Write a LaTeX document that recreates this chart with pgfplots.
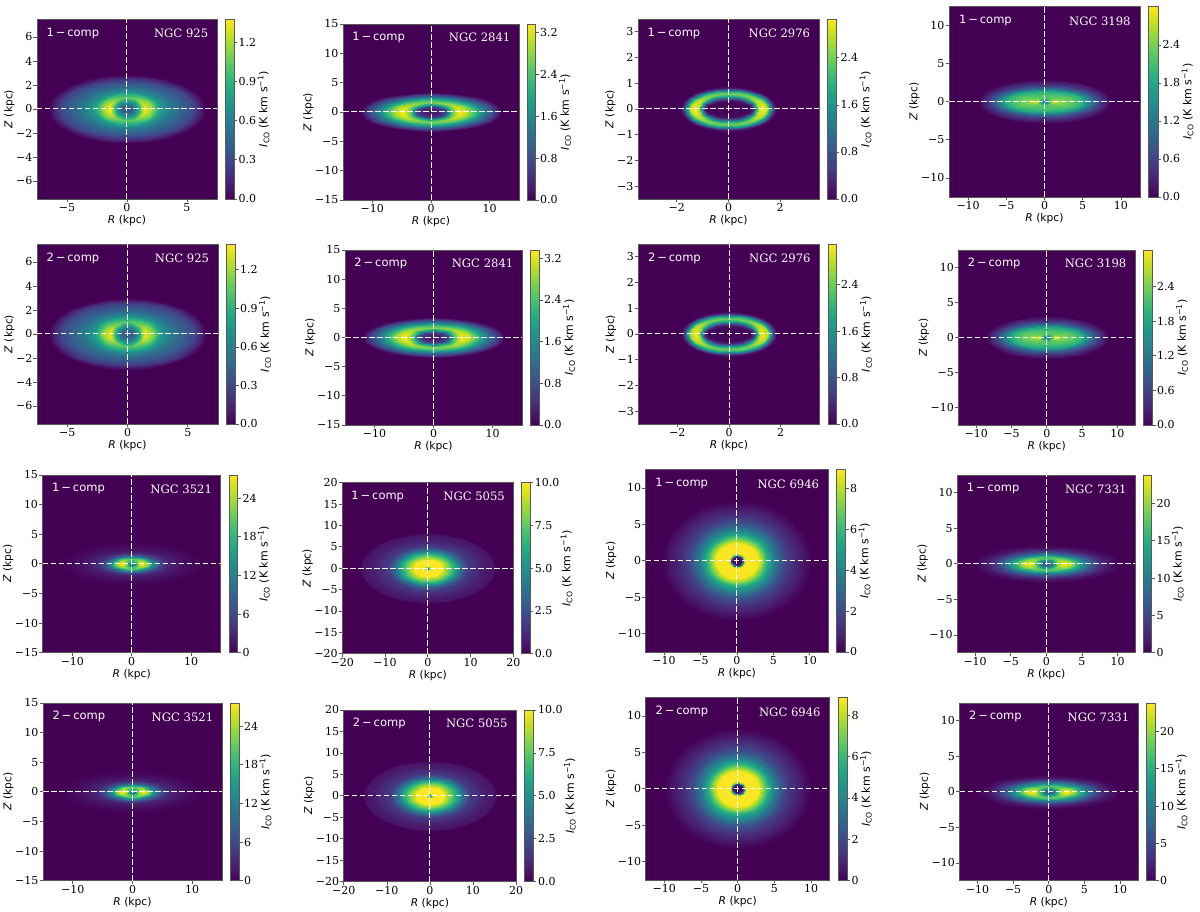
\documentclass[border=0pt]{standalone}
\usepackage{fontspec}
\setmainfont{DejaVu Sans}
\newfontfamily\serifnum{DejaVu Serif}
\usepackage{pgfplots}
\pgfplotsset{compat=1.18}
\usepackage{pgfplotstable}
\definecolor{bg}{RGB}{68,1,84}
\definecolor{spine}{gray}{0.35}
\pgfplotstableread{
x y c
0 0 .38
0 0 .38
0 0 .38
0 0 .38
0 0 .38
0 0 .38
0 0 .38
.5 0 .42
.48 .07 .42
.43 .14 .42
.35 .19 .42
.25 .23 .42
.13 .26 .42
0 .27 .42
.95 0 .85
.92 .14 .83
.82 .28 .78
.67 .39 .72
.48 .48 .68
.25 .53 .65
0 .55 .65
1.45 0 1.37
1.4 .25 1.34
1.26 .48 1.26
1.03 .67 1.17
.73 .82 1.1
.38 .92 1.05
0 .95 1.03
2 0 1.2
1.93 .32 1.17
1.73 .63 1.1
1.41 .88 1
1 1.08 .92
.52 1.21 .87
0 1.25 .85
2.7 0 .8
2.61 .4 .78
2.34 .78 .74
1.91 1.1 .7
1.35 1.34 .65
.7 1.5 .62
0 1.55 .6
3.6 0 .58
3.48 .49 .56
3.12 .95 .53
2.55 1.34 .5
1.8 1.65 .47
.93 1.84 .45
0 1.9 .45
4.7 0 .42
4.54 .57 .41
4.07 1.1 .39
3.32 1.56 .38
2.35 1.91 .36
1.22 2.13 .35
0 2.2 .35
5.5 0 .3
5.31 .63 .3
4.76 1.23 .28
3.89 1.73 .27
2.75 2.12 .26
1.42 2.37 .25
0 2.45 .25
6.1 0 .13
5.89 .69 .13
5.28 1.33 .13
4.31 1.87 .13
3.05 2.29 .13
1.58 2.56 .13
0 2.65 .13
6.6 0 0
6.38 .74 0
5.72 1.43 0
4.67 2.01 0
3.3 2.47 0
1.71 2.75 0
0 2.85 0
}\Ga
\pgfplotstableread{
x y c
0 0 .25
0 0 .25
0 0 .25
0 0 .25
0 0 .25
0 0 .25
0 0 .25
1.5 0 .3
1.45 .12 .3
1.3 .23 .3
1.06 .32 .3
.75 .39 .3
.39 .43 .3
0 .45 .3
2.6 0 .8
2.51 .22 .78
2.25 .43 .72
1.84 .6 .65
1.3 .74 .6
.67 .82 .55
0 .85 .55
3.6 0 2.6
3.48 .31 2.5
3.12 .6 2.3
2.55 .85 2.1
1.8 1.04 1.9
.93 1.16 1.8
0 1.2 1.75
4.8 0 3.36
4.64 .43 3.3
4.16 .83 3.15
3.39 1.17 3
2.4 1.43 2.85
1.24 1.59 2.75
0 1.65 2.7
6 0 3.05
5.8 .52 3
5.2 1 2.85
4.24 1.41 2.65
3 1.73 2.5
1.55 1.93 2.4
0 2 2.35
7.5 0 2.3
7.25 .62 2.2
6.5 1.2 2.05
5.3 1.7 1.9
3.75 2.08 1.75
1.94 2.32 1.65
0 2.4 1.6
9 0 1.4
8.69 .7 1.35
7.79 1.35 1.3
6.36 1.91 1.2
4.5 2.34 1.1
2.33 2.61 1.05
0 2.7 1
10.5 0 .8
10.14 .78 .75
9.09 1.5 .7
7.42 2.12 .65
5.25 2.6 .6
2.72 2.9 .57
0 3 .55
11.5 0 .3
11.11 .84 .28
9.96 1.63 .27
8.13 2.3 .25
5.75 2.81 .22
2.98 3.14 .2
0 3.25 .2
12.1 0 0
11.69 .88 0
10.48 1.7 0
8.55 2.4 0
6.05 2.94 0
3.13 3.28 0
0 3.4 0
}\Gb
\pgfplotstableread{
x y c
0 0 .02
0 0 .02
0 0 .02
0 0 .02
0 0 .02
0 0 .02
0 0 .02
.85 0 .05
.82 .07 .05
.74 .14 .05
.6 .2 .05
.43 .24 .05
.22 .27 .05
0 .28 .05
.98 0 .6
.95 .09 .5
.85 .18 .42
.69 .25 .35
.49 .31 .3
.25 .35 .3
0 .36 .3
1.08 0 2
1.04 .11 1.8
.94 .22 1.55
.76 .31 1.35
.54 .38 1.2
.28 .43 1.1
0 .44 1.05
1.2 0 2.9
1.16 .13 2.8
1.04 .26 2.55
.85 .37 2.3
.6 .45 2.1
.31 .5 2
0 .52 1.95
1.33 0 3.06
1.28 .16 3
1.15 .3 2.85
.94 .42 2.65
.67 .52 2.5
.34 .58 2.42
0 .6 2.4
1.47 0 2.8
1.42 .18 2.7
1.27 .34 2.5
1.04 .48 2.3
.74 .59 2.15
.38 .66 2.05
0 .68 2
1.62 0 1.7
1.56 .19 1.6
1.4 .38 1.4
1.15 .53 1.25
.81 .65 1.15
.42 .72 1.05
0 .75 1.05
1.75 0 .5
1.69 .21 .45
1.52 .41 .4
1.24 .58 .35
.88 .71 .3
.45 .79 .3
0 .82 .3
1.87 0 0
1.81 .23 0
1.62 .44 0
1.32 .62 0
.94 .76 0
.48 .85 0
0 .88 0
}\Gc
\pgfplotstableread{
x y c
0 0 1
0 0 1
0 0 1
0 0 1
0 0 1
0 0 1
0 0 1
.5 0 1.7
.48 .05 1.7
.43 .1 1.7
.35 .14 1.65
.25 .17 1.6
.13 .19 1.6
0 .2 1.6
1.2 0 3
1.16 .12 2.9
1.04 .23 2.65
.85 .32 2.4
.6 .39 2.25
.31 .43 2.2
0 .45 2.15
2 0 2.55
1.93 .18 2.5
1.73 .35 2.4
1.41 .49 2.3
1 .61 2.25
.52 .68 2.2
0 .7 2.2
3.5 0 2.3
3.38 .27 2.28
3.03 .53 2.25
2.47 .74 2.2
1.75 .91 2.15
.91 1.01 2.1
0 1.05 2.1
5 0 1.95
4.83 .36 1.92
4.33 .7 1.9
3.54 .99 1.85
2.5 1.21 1.8
1.3 1.35 1.75
0 1.4 1.75
6.2 0 1.2
5.99 .47 1.15
5.37 .9 1.1
4.38 1.27 1.05
3.1 1.56 1
1.61 1.74 .95
0 1.8 .95
7.3 0 .55
7.05 .57 .52
6.32 1.1 .5
5.16 1.56 .5
3.65 1.91 .47
1.89 2.13 .45
0 2.2 .45
8.2 0 .2
7.92 .67 .2
7.1 1.3 .2
5.8 1.84 .2
4.1 2.25 .2
2.12 2.51 .2
0 2.6 .2
8.8 0 0
8.5 .75 0
7.62 1.45 0
6.22 2.05 0
4.4 2.51 0
2.28 2.8 0
0 2.9 0
}\Gd
\pgfplotstableread{
x y c
0 0 10
0 0 10
0 0 10
0 0 10
0 0 10
0 0 10
0 0 10
.5 0 12
.48 .05 12
.43 .1 12
.35 .14 12
.25 .17 12
.13 .19 12
0 .2 12
1 0 24
.97 .12 23.5
.87 .23 22
.71 .32 20
.5 .39 19
.26 .43 18
0 .45 18
1.8 0 27.6
1.74 .22 27
1.56 .43 25.5
1.27 .6 24
.9 .74 22
.47 .82 21
0 .85 20.5
2.7 0 22
2.61 .28 21.5
2.34 .55 20
1.91 .78 18.5
1.35 .95 17
.7 1.06 16
0 1.1 16
3.6 0 13
3.48 .35 12.5
3.12 .68 11.5
2.55 .95 10.5
1.8 1.17 9.5
.93 1.3 9
0 1.35 9
4.7 0 6.5
4.54 .43 6.3
4.07 .83 5.8
3.32 1.17 5.3
2.35 1.43 4.9
1.22 1.59 4.7
0 1.65 4.6
6 0 3
5.8 .52 2.9
5.2 1 2.8
4.24 1.41 2.6
3 1.73 2.5
1.55 1.93 2.4
0 2 2.3
8 0 1.5
7.73 .65 1.45
6.93 1.25 1.4
5.66 1.77 1.3
4 2.17 1.25
2.07 2.42 1.2
0 2.5 1.2
10 0 .6
9.66 .78 .6
8.66 1.5 .6
7.07 2.12 .6
5 2.6 .6
2.59 2.9 .6
0 3 .6
12 0 0
11.59 .93 0
10.39 1.8 0
8.48 2.55 0
6 3.12 0
3.11 3.48 0
0 3.6 0
}\Ge
\pgfplotstableread{
x y c
0 0 4.5
0 0 4.5
0 0 4.5
0 0 4.5
0 0 4.5
0 0 4.5
0 0 4.5
.5 0 8
.48 .09 8
.43 .18 8
.35 .25 8
.25 .3 8
.13 .34 8
0 .35 8
1 0 10
.97 .16 10
.87 .3 10
.71 .42 10
.5 .52 10
.26 .58 10
0 .6 10
3.4 0 10
3.28 .52 10
2.94 1 10
2.4 1.41 10
1.7 1.73 10
.88 1.93 10
0 2 10
3.8 0 9.2
3.67 .58 9.2
3.29 1.13 9.2
2.69 1.59 9.2
1.9 1.95 9.2
.98 2.17 9.2
0 2.25 9.2
4.8 0 8
4.64 .73 8
4.16 1.4 8
3.39 1.98 8
2.4 2.42 8
1.24 2.7 8
0 2.8 8
6.3 0 6
6.09 .91 6
5.46 1.75 6
4.45 2.47 6
3.15 3.03 6
1.63 3.38 6
0 3.5 6
8 0 3.2
7.73 1.14 3.2
6.93 2.2 3.2
5.66 3.11 3.2
4 3.81 3.2
2.07 4.25 3.2
0 4.4 3.2
9.5 0 1.7
9.18 1.35 1.7
8.23 2.6 1.7
6.72 3.68 1.7
4.75 4.5 1.7
2.46 5.02 1.7
0 5.2 1.7
12 0 1.1
11.59 1.61 1.1
10.39 3.1 1.1
8.48 4.38 1.1
6 5.37 1.1
3.11 5.99 1.1
0 6.2 1.1
13 0 .8
12.56 1.76 .8
11.26 3.4 .8
9.19 4.81 .8
6.5 5.89 .8
3.37 6.57 .8
0 6.8 .8
15.4 0 .5
14.88 2.05 .5
13.34 3.95 .5
10.89 5.59 .5
7.7 6.84 .5
3.99 7.63 .5
0 7.9 .5
16 0 0
15.46 2.12 0
13.86 4.1 0
11.31 5.8 0
8 7.1 0
4.14 7.92 0
0 8.2 0
}\Gf
\pgfplotstableread{
x y c
0 0 0
0 0 0
0 0 0
0 0 0
0 0 0
0 0 0
0 0 0
.6 0 .3
.58 .13 .3
.52 .25 .3
.42 .35 .3
.3 .43 .3
.16 .48 .3
0 .5 .3
.78 0 2.2
.75 .18 2.2
.68 .34 2.2
.55 .48 2.2
.39 .59 2.2
.2 .66 2.2
0 .68 2.2
1 0 7.5
.97 .23 7.5
.87 .45 7.5
.71 .64 7.5
.5 .78 7.5
.26 .87 7.5
0 .9 7.5
1.2 0 8.9
1.16 .27 8.9
1.04 .53 8.9
.85 .74 8.9
.6 .91 8.9
.31 1.01 8.9
0 1.05 8.9
2.9 0 8.8
2.8 .62 8.8
2.51 1.2 8.8
2.05 1.7 8.8
1.45 2.08 8.8
.75 2.32 8.8
0 2.4 8.8
3.4 0 7.6
3.28 .74 7.6
2.94 1.43 7.6
2.4 2.01 7.6
1.7 2.47 7.6
.88 2.75 7.6
0 2.85 7.6
4.2 0 5.6
4.06 .91 5.6
3.64 1.75 5.6
2.97 2.47 5.6
2.1 3.03 5.6
1.09 3.38 5.6
0 3.5 5.6
5.2 0 3.6
5.02 1.14 3.6
4.5 2.2 3.6
3.68 3.11 3.6
2.6 3.81 3.6
1.35 4.25 3.6
0 4.4 3.6
6.3 0 2.1
6.09 1.37 2.1
5.46 2.65 2.1
4.45 3.75 2.1
3.15 4.59 2.1
1.63 5.12 2.1
0 5.3 2.1
7.5 0 1.2
7.25 1.63 1.2
6.5 3.15 1.2
5.3 4.45 1.2
3.75 5.46 1.2
1.94 6.09 1.2
0 6.3 1.2
9 0 .6
8.69 1.86 .6
7.79 3.6 .6
6.36 5.09 .6
4.5 6.24 .6
2.33 6.96 .6
0 7.2 .6
10 0 .15
9.66 2.07 .15
8.66 4 .15
7.07 5.66 .15
5 6.93 .15
2.59 7.73 .15
0 8 .15
10.4 0 0
10.05 2.15 0
9.01 4.15 0
7.35 5.87 0
5.2 7.19 0
2.69 8.02 0
0 8.3 0
}\Gg
\pgfplotstableread{
x y c
0 0 6
0 0 6
0 0 6
0 0 6
0 0 6
0 0 6
0 0 6
.6 0 8
.58 .06 8
.52 .13 8
.42 .18 8
.3 .22 8
.16 .24 8
0 .25 8
1.1 0 14
1.06 .13 13.5
.95 .25 13
.78 .35 12.5
.55 .43 12
.28 .48 11.5
0 .5 11.5
1.8 0 22
1.74 .19 21
1.56 .36 19.5
1.27 .51 18
.9 .62 17
.47 .7 16.5
0 .72 16
2.5 0 23.8
2.42 .23 23
2.17 .45 21
1.77 .64 19.5
1.25 .78 18.5
.65 .87 18
0 .9 17.5
3.4 0 21.5
3.28 .28 20.5
2.94 .55 19
2.4 .78 17
1.7 .95 15.5
.88 1.06 15
0 1.1 14.5
4.5 0 15
4.35 .35 14.5
3.9 .68 13.5
3.18 .95 12
2.25 1.17 11
1.17 1.3 10.5
0 1.35 10
5.8 0 8.5
5.6 .43 8.2
5.02 .83 7.8
4.1 1.17 7
2.9 1.43 6.5
1.5 1.59 6.2
0 1.65 6
7.2 0 4
6.96 .51 3.9
6.24 .98 3.7
5.09 1.38 3.4
3.6 1.69 3.1
1.86 1.88 2.9
0 1.95 2.8
8.7 0 1.5
8.4 .58 1.45
7.53 1.13 1.4
6.15 1.59 1.3
4.35 1.95 1.2
2.25 2.17 1.15
0 2.25 1.1
10 0 .4
9.66 .65 .4
8.66 1.25 .4
7.07 1.77 .4
5 2.17 .4
2.59 2.42 .4
0 2.5 .4
10.5 0 0
10.14 .7 0
9.09 1.35 0
7.42 1.91 0
5.25 2.34 0
2.72 2.61 0
0 2.7 0
}\Gh
\pgfplotsset{
X2/.style={xtick={-2,0,2},xticklabels={−2,0,2}},
X5/.style={xtick={-5,0,5},xticklabels={−5,0,5}},
X10/.style={xtick={-10,0,10},xticklabels={−10,0,10}},
X12/.style={xtick={-10,-5,0,5,10},xticklabels={−10,−5,0,5,10}},
X20/.style={xtick={-20,-10,0,10,20},xticklabels={−20,−10,0,10,20}},
Y3/.style={ytick={-3,-2,-1,0,1,2,3},yticklabels={−3,−2,−1,0,1,2,3}},
Y6/.style={ytick={-6,-4,-2,0,2,4,6},yticklabels={−6,−4,−2,0,2,4,6}},
Y10/.style={ytick={-10,-5,0,5,10},yticklabels={−10,−5,0,5,10}},
Y15/.style={ytick={-15,-10,-5,0,5,10,15},yticklabels={−15,−10,−5,0,5,10,15}},
Y20/.style={ytick={-20,-15,-10,-5,0,5,10,15,20},yticklabels={−20,−15,−10,−5,0,5,10,15,20}},
}
\newcommand\Q[3]{\addplot[surf,shader=interp,mesh/cols=7,point meta={\thisrow{c}},forget plot] table[x expr=#1*\sx*\thisrow{x},y expr=#2*\sy*\thisrow{y}]{#3};}
\newcommand\G[8]{\pgfmathsetmacro\Lx{#1}\pgfmathsetmacro\Ly{912-#4}\pgfmathsetmacro\Wd{#2-#1}\pgfmathsetmacro\Ht{#4-#3}\pgfmathsetmacro\Cw{#6-#5}\pgfmathsetmacro\Cs{#5-#2}\def\sx{#7}\def\sy{#8}}
\newcommand\panel[8]{%
\begin{axis}[at={(\Lx pt,\Ly pt)},anchor=south west,scale only axis,width=\Wd pt,height=\Ht pt,
xmin=-#1,xmax=#1,ymin=-#1,ymax=#1,axis background/.style={fill=bg},#2,#3,
axis line style={spine,line width=0.8pt},tick style={spine,line width=0.7pt},major tick length=3.5pt,tick align=outside,
xtick pos=bottom,ytick pos=left,
tick label style={font=\serifnum\fontsize{11}{13}\selectfont,inner sep=1pt},
label style={font=\fontsize{10.7}{13}\selectfont},
xlabel={\textit{R} (kpc)},ylabel={\textit{Z} (kpc)},
xlabel style={yshift=1pt},ylabel style={yshift=-3pt},
colormap/viridis,point meta min=0,point meta max=#4,colorbar,
colorbar style={width=\Cw pt,height=\Ht pt,at={([xshift=\Cs pt]parent axis.north east)},anchor=north west,
ytick={#5},yticklabels={#5},ylabel={\textit{I}\textsubscript{CO} (K km s\textsuperscript{−1})},
axis line style={spine,line width=0.8pt},tick style={spine,line width=0.7pt},major tick length=3pt,tick align=outside,
ytick pos=right,xtick=\empty,
tick label style={font=\serifnum\fontsize{11}{13}\selectfont,inner sep=1.5pt},
label style={font=\fontsize{11}{13}\selectfont},ylabel style={yshift=3.5pt}}]
\Q{1}{1}{#8}\Q{-1}{1}{#8}\Q{1}{-1}{#8}\Q{-1}{-1}{#8}
\addplot[white,line width=1pt,dash pattern=on 5.5pt off 2.5pt,forget plot] coordinates {(-#1,0)(#1,0)};
\addplot[white,line width=1pt,dash pattern=on 5.5pt off 2.5pt,forget plot] coordinates {(0,-#1)(0,#1)};
\node[white,anchor=west,inner sep=0pt,font=\fontsize{11.5}{13}\selectfont] at (axis description cs:0.052,0.922) {#6\,−\,comp};
\node[white,anchor=east,inner sep=0pt,font=\serifnum\fontsize{11.6}{13}\selectfont] at (axis description cs:0.952,0.922) {NGC #7};
\end{axis}}
\begin{document}
\begin{tikzpicture}
\path[use as bounding box] (0,0) rectangle (1200pt,912pt);
\G{37}{217}{19}{199}{225}{233.5}{1}{1}\panel{7.5}{X5}{Y6}{1.376}{0.0,0.3,0.6,0.9,1.2}{1}{925}{\Ga}
\G{343}{519}{24}{200}{528}{536}{1}{1}\panel{15}{X10}{Y15}{3.36}{0.0,0.8,1.6,2.4,3.2}{1}{2841}{\Gb}
\G{638}{819}{19}{199}{827}{835.5}{1}{1}\panel{3.5}{X2}{Y3}{3.06}{0.0,0.8,1.6,2.4}{1}{2976}{\Gc}
\G{949}{1140}{6}{197}{1148}{1157.5}{1}{1}\panel{12.5}{X12}{Y10}{3.015}{0.0,0.6,1.2,1.8,2.4}{1}{3198}{\Gd}
\G{37}{218}{244}{424}{226}{235}{1}{1.05}\panel{7.5}{X5}{Y6}{1.4}{0.0,0.3,0.6,0.9,1.2}{2}{925}{\Ga}
\G{345}{522}{250}{425}{530}{539}{1}{1.03}\panel{15}{X10}{Y15}{3.36}{0.0,0.8,1.6,2.4,3.2}{2}{2841}{\Gb}
\G{638.5}{819.5}{244}{424}{828}{836.5}{1}{1}\panel{3.5}{X2}{Y3}{3.1}{0.0,0.8,1.6,2.4}{2}{2976}{\Gc}
\G{958.5}{1135}{250}{425}{1143.5}{1152.5}{1}{1.08}\panel{12.5}{X12}{Y10}{3.03}{0.0,0.6,1.2,1.8,2.4}{2}{3198}{\Gd}
\G{42.7}{220.7}{475}{652.7}{228.7}{237.3}{1}{1}\panel{15}{X10}{Y15}{27.6}{0,6,12,18,24}{1}{3521}{\Ge}
\G{342.3}{513.3}{482.7}{653.7}{522}{530.3}{1}{1}\panel{20}{X20}{Y20}{10}{0.0,2.5,5.0,7.5,10.0}{1}{5055}{\Gf}
\G{645.7}{828}{469.7}{652}{836.3}{845.3}{1}{1}\panel{12.5}{X12}{Y10}{8.9}{0,2,4,6,8}{1}{6946}{\Gg}
\G{957.3}{1135.3}{475}{652.7}{1143.7}{1151.7}{1}{1}\panel{12.5}{X12}{Y10}{23.8}{0,5,10,15,20}{1}{7331}{\Gh}
\G{43}{222}{703}{880.7}{230}{239}{1}{1}\panel{15}{X10}{Y15}{27.6}{0,6,12,18,24}{2}{3521}{\Ge}
\G{343.8}{516}{710}{881.7}{524.6}{533.5}{.98}{1}\panel{20}{X20}{Y20}{10}{0.0,2.5,5.0,7.5,10.0}{2}{5055}{\Gf}
\G{645.8}{829.6}{697.7}{880}{837.7}{846.5}{.97}{1}\panel{12.5}{X12}{Y10}{8.88}{0,2,4,6,8}{2}{6946}{\Gg}
\G{959.6}{1138}{703}{880.7}{1146}{1155}{.97}{.93}\panel{12.5}{X12}{Y10}{23.8}{0,5,10,15,20}{2}{7331}{\Gh}
\end{tikzpicture}
\end{document}
